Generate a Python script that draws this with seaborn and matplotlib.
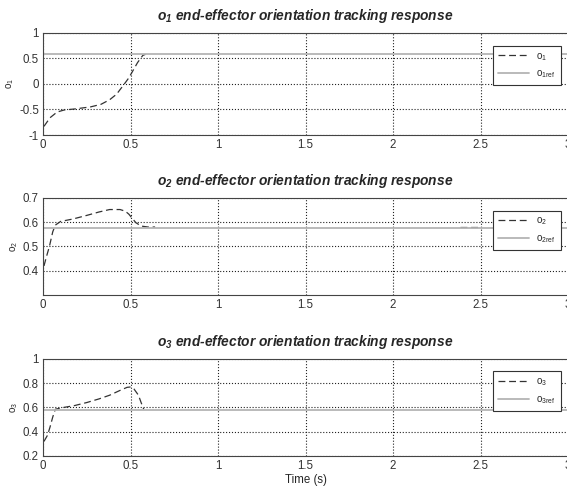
import numpy as np
import pandas as pd
import matplotlib
matplotlib.use("Agg")
import matplotlib.pyplot as plt
import seaborn as sns
from matplotlib.lines import Line2D

sns.set_style("white")
plt.rcParams['font.family'] = ['Liberation Sans', 'DejaVu Sans']
plt.rcParams['mathtext.default'] = 'regular'

# (after the visible part the response sits under the ref line)
t1 = [0.005, 0.04, 0.08, 0.12, 0.18, 0.27, 0.33, 0.38, 0.42, 0.46, 0.49, 0.51, 0.54, 0.57, 0.585]
o1 = [-0.83, -0.66, -0.55, -0.51, -0.49, -0.45, -0.40, -0.31, -0.20, -0.02, 0.12, 0.24, 0.42, 0.56, 0.58]
seg1 = [0] * len(t1)

t2 = [0.005, 0.02, 0.036, 0.055, 0.07, 0.1, 0.17, 0.25, 0.32, 0.38, 0.44, 0.47, 0.49, 0.51, 0.53, 0.56, 0.6, 0.64, 2.38, 2.485]
o2 = [0.42, 0.46, 0.50, 0.56, 0.588, 0.603, 0.613, 0.628, 0.642, 0.652, 0.652, 0.645, 0.633, 0.615, 0.598, 0.584, 0.58, 0.58, 0.581, 0.581]
seg2 = [0] * 18 + [1, 1]

t3 = [0.005, 0.025, 0.04, 0.055, 0.07, 0.12, 0.18, 0.25, 0.32, 0.38, 0.44, 0.48, 0.5, 0.52, 0.545, 0.56, 0.575]
o3 = [0.32, 0.37, 0.44, 0.52, 0.585, 0.60, 0.615, 0.64, 0.67, 0.70, 0.74, 0.765, 0.768, 0.75, 0.70, 0.64, 0.585]
seg3 = [0] * len(t3)

ref_t = [0, 3]
ref = [0.577, 0.577]

series = [(t1, o1, seg1, '1'), (t2, o2, seg2, '2'), (t3, o3, seg3, '3')]
ylims = [(-1, 1), (0.3, 0.7), (0.2, 1)]
yticks = [[-1, -0.5, 0, 0.5, 1], [0.4, 0.5, 0.6, 0.7], [0.2, 0.4, 0.6, 0.8, 1]]
ytlabels = [['-1', '-0.5', '0', '0.5', '1'], ['0.4', '0.5', '0.6', '0.7'], ['0.2', '0.4', '0.6', '0.8', '1']]
xticks = [0, 0.5, 1, 1.5, 2, 2.5, 3]
xtlabels = ['0', '0.5', '1', '1.5', '2', '2.5', '3']

fig = plt.figure(figsize=(5.67, 4.91), dpi=100)
boxes = [[0.076, 0.725, 0.926, 0.208],
         [0.076, 0.399, 0.926, 0.198],
         [0.076, 0.0713, 0.926, 0.198]]

dash = (0, (5.5, 3))
for i, (t, o, seg, k) in enumerate(series):
    ax = fig.add_axes(boxes[i])
    df = pd.DataFrame({'t': t, 'o': o, 'seg': seg})
    sns.lineplot(data=df, x='t', y='o', units='seg', estimator=None, ax=ax,
                 color='#333333', linestyle=dash, linewidth=0.9)
    sns.lineplot(x=ref_t, y=ref, ax=ax, color='#b4b4b4', linewidth=1.3)
    ax.set_xlim(0, 3)
    ax.set_ylim(*ylims[i])
    ax.set_xticks(xticks)
    ax.set_xticklabels(xtlabels)
    ax.set_yticks(yticks[i])
    ax.set_yticklabels(ytlabels[i])
    ax.grid(True, linestyle=':', color='#222222', linewidth=0.8)
    ax.tick_params(direction='in', length=4, width=0.8, labelsize=8.3, colors='#333333', pad=3)
    for s in ax.spines.values():
        s.set_color('#444444')
        s.set_linewidth(0.8)
    ax.set_ylabel('o$_' + k + '$', fontsize=7, labelpad=2)
    ax.set_xlabel('Time (s)' if i == 2 else '', fontsize=8.3, labelpad=1)
    ax.set_title('o$_' + k + '$ end-effector orientation tracking response',
                 fontsize=9.9, fontweight='bold', fontstyle='italic', pad=9)
    handles = [Line2D([], [], color='#333333', linestyle=dash, linewidth=0.9),
               Line2D([], [], color='#b4b4b4', linewidth=1.3)]
    leg = ax.legend(handles, ['o$_' + k + '$', 'o$_{' + k + 'ref}$'], loc='upper right',
                    bbox_to_anchor=(0.995, 0.92), fontsize=7, fancybox=False,
                    framealpha=1, edgecolor='#333333', handlelength=3.2, borderpad=0.5,
                    labelspacing=0.6)
    leg.get_frame().set_linewidth(0.8)

fig.savefig('out.png', dpi=100, facecolor='white')
